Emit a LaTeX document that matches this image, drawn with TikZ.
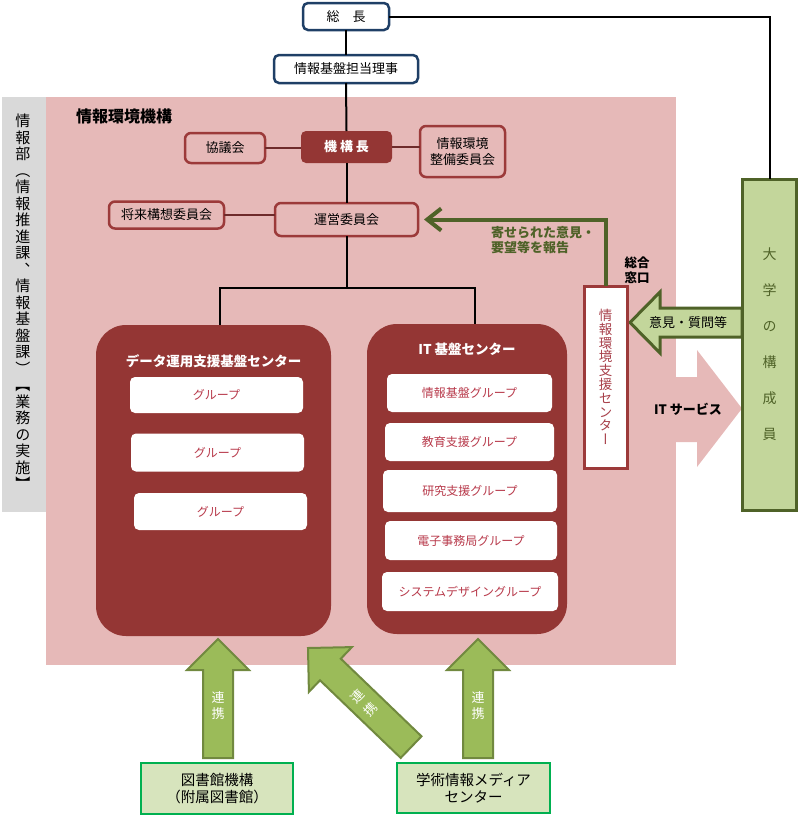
\documentclass[tikz,border=0pt]{standalone}
\usepackage{fontspec}
\setmainfont{Noto Sans CJK JP}
\newfontfamily\vjp[RawFeature=+vert]{Noto Sans CJK JP}
\usetikzlibrary{arrows.meta}
\definecolor{pinkbg}{HTML}{E6B9B8}
\definecolor{darkred}{HTML}{943634}
\definecolor{boxred}{HTML}{9C3A3A}
\definecolor{rline}{HTML}{6E2B2B}
\definecolor{grptxt}{HTML}{B83A4B}
\definecolor{shientxt}{HTML}{A8404A}
\definecolor{navy}{HTML}{1F3F66}
\definecolor{greendark}{HTML}{4F6228}
\definecolor{lightgreen}{HTML}{C3D69B}
\definecolor{argreen}{HTML}{9BBB59}
\definecolor{arborder}{HTML}{71893F}
\definecolor{libfill}{HTML}{D7E4BD}
\definecolor{libborder}{HTML}{00B050}
\definecolor{graystrip}{HTML}{D9D9D9}
\begin{document}
\begin{tikzpicture}[x=1pt,y=-1pt,
  txtbase/.style={inner sep=0pt, outer sep=0pt, align=center, font=\fontsize{13}{15.5}\selectfont},
  nvbox/.style={txtbase, draw=navy, line width=2.5pt, fill=white, rounded corners=5pt},
  rbox/.style={txtbase, draw=boxred, line width=2.5pt, fill=pinkbg, rounded corners=6pt},
  cenbox/.style={fill=darkred, rounded corners=30pt, inner sep=0pt, outer sep=0pt},
  grp/.style={txtbase, fill=white, rounded corners=5pt, text=grptxt, font=\fontsize{12}{14}\selectfont},
  blk/.style={draw=black, line width=2pt},
  rln/.style={draw=rline, line width=2pt},
  upar/.style={fill=argreen, draw=arborder, line width=2pt, line join=miter},
  libbox/.style={txtbase, fill=libfill, draw=libborder, line width=2.5pt, font=\fontsize{14.5}{17.5}\selectfont},
  rentxt/.style={txtbase, text=white, font=\fontsize{13}{16}\selectfont},
]
\useasboundingbox (0,0) rectangle (800,817);
% backgrounds
\fill[graystrip] (2,97) rectangle (46,512);
\fill[pinkbg] (46,97) rectangle (676,665);
% IT service arrow
\fill[pinkbg] (640,377) -- (697,377) -- (697,350) -- (742,408.5) -- (697,467) -- (697,442) -- (640,442) -- cycle;
% opinion arrow
\draw[fill=lightgreen, draw=greendark, line width=3pt, line join=miter]
  (742,308) -- (660,308) -- (660,292) -- (630,322.5) -- (660,353) -- (660,337) -- (742,337) -- cycle;

% left strip text
\node[txtbase, anchor=north, font=\vjp\fontsize{15}{16.5}\selectfont] (bu) at (23,114)
  {情\\報\\部\\（\\情\\報\\推\\進\\課\\、\\情\\報\\基\\盤\\課\\）\\【\\業\\務\\の\\実\\施\\】};
\node[txtbase, font=\bfseries\fontsize{16}{18}\selectfont] (kiko) at (124,116) {情報環境機構};

% top boxes
\node[nvbox, minimum width=86pt, minimum height=27pt] (socho) at (346,16.5) {総\hspace{1em}長};
\node[nvbox, minimum width=144pt, minimum height=28pt] (riji) at (346,69) {情報基盤担当理事};
\node[txtbase, fill=darkred, rounded corners=5pt, minimum width=91pt, minimum height=32pt, text=white, font=\bfseries\fontsize{13}{15.5}\selectfont] (kikocho) at (346.5,147) {機 構 長};
\node[rbox, minimum width=80pt, minimum height=30pt] (kyogi) at (225,148) {協議会};
\node[rbox, minimum width=85pt, minimum height=51pt] (seibi) at (462.5,151.5) {情報環境\\整備委員会};
\node[rbox, minimum width=143pt, minimum height=33pt] (unei) at (346.5,219.5) {運営委員会};
\node[rbox, minimum width=115pt, minimum height=27pt] (shorai) at (166.5,215) {将来構想委員会};

% centers
\node[cenbox, minimum width=235pt, minimum height=311pt] (dcen) at (213.5,480.5) {};
\node[txtbase, text=white, font=\bfseries\fontsize{13.5}{16}\selectfont] (dtitle) at (213.5,361) {データ運用支援基盤センター};
\node[grp, minimum width=173pt, minimum height=36pt] (g1) at (216.5,395) {グループ};
\node[grp, minimum width=173pt, minimum height=38pt] (g2) at (217.5,452.5) {グループ};
\node[grp, minimum width=173pt, minimum height=37pt] (g3) at (220.5,511.5) {グループ};

\node[cenbox, minimum width=200pt, minimum height=310pt] (itcen) at (467,479) {};
\node[txtbase, text=white, font=\bfseries\fontsize{13.5}{16}\selectfont] (ittitle) at (467,349) {IT 基盤センター};
\node[grp, minimum width=165pt, minimum height=38pt] (i1) at (469.5,393) {情報基盤グループ};
\node[grp, minimum width=169pt, minimum height=38pt] (i2) at (469.5,442) {教育支援グループ};
\node[grp, minimum width=174pt, minimum height=42pt] (i3) at (470,491) {研究支援グループ};
\node[grp, minimum width=172pt, minimum height=39pt] (i4) at (471,540.5) {電子事務局グループ};
\node[grp, minimum width=176pt, minimum height=39pt] (i5) at (470,591.5) {システムデザイングループ};

% support center and university members
\node[txtbase, draw=boxred, line width=3pt, fill=white, minimum width=43pt, minimum height=182pt, text=shientxt, font=\vjp\fontsize{13.5}{13.8}\selectfont] (shien) at (605.5,377)
  {情\\報\\環\\境\\支\\援\\セ\\ン\\タ\\ー};
\node[txtbase, draw=greendark, line width=3pt, fill=lightgreen, minimum width=54pt, minimum height=331pt, text=greendark, font=\vjp\fontsize{14}{36}\selectfont] (daigaku) at (769.5,344.5)
  {大\\学\\の\\構\\成\\員};

% texts
\node[txtbase, font=\fontsize{13}{15.5}\selectfont] (iken) at (688,323) {意見・質問等};
\node[txtbase, font=\bfseries\fontsize{13}{15.5}\selectfont] (itsv) at (688,409) {IT サービス};
\node[txtbase, align=left, font=\bfseries\fontsize{12.5}{15}\selectfont] (madoguchi) at (637,270) {総合\\窓口};
\node[txtbase, align=left, anchor=west, text=greendark, font=\bfseries\fontsize{13}{15}\selectfont] (hokoku) at (491,240) {寄せられた意見・\\要望等を報告};

% connectors
\draw[blk] (socho.south) -- (riji.north);
\draw[blk] (riji.south) -- (kikocho.north);
\draw[blk] (kikocho.south) -- (unei.north);
\draw[blk] (socho.east) -| (daigaku.north);
\draw[rln] (kyogi.east) -- (kyogi.east -| kikocho.west);
\draw[rln] (kikocho.east) -- (kikocho.east -| seibi.west);
\draw[rln] (shorai.east) -- (shorai.east -| unei.west);
\coordinate (junc) at (346.5,288);
\draw[blk] (unei.south) -- (junc);
\draw[blk] ([xshift=6.5pt]dcen.north) |- (junc) -| ([xshift=8pt]itcen.north);
\draw[draw=greendark, line width=4pt, -{Straight Barb[length=14pt,width=22pt]}] (shien.north) |- ([xshift=6pt]unei.east);

% bottom boxes
\node[libbox, minimum width=152pt, minimum height=51pt] (lib) at (217,788.5) {図書館機構\\（附属図書館）};
\node[libbox, minimum width=153pt, minimum height=50pt] (media) at (473.5,788) {学術情報メディア\\センター};

% bottom arrows
\draw[upar] (203,758) -- (203,670) -- (187,670) -- (218,639) -- (249,670) -- (233,670) -- (233,758) -- cycle;
\draw[upar] (463,758) -- (463,670) -- (447,670) -- (478,639) -- (509,670) -- (493,670) -- (493,758) -- cycle;
\draw[upar] (308,648) -- (351.9,647.1) -- (340.8,658.7) -- (421.5,736.3) -- (400.7,757.9) -- (320.0,680.3) -- (308.9,691.9) -- cycle;
\node[rentxt] (ren1) at (218,706) {連\\携};
\node[rentxt] (ren3) at (478,706) {連\\携};
\node[rentxt, rotate=46, font=\fontsize{13}{18}\selectfont] (ren2) at (364,703) {連\\携};
\end{tikzpicture}
\end{document}
